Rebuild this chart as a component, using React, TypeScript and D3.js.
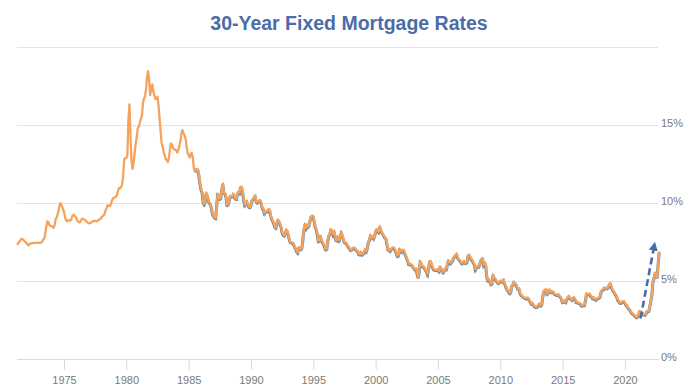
import * as d3 from "d3";
import { useEffect, useRef } from "react";

// monthly averages, 30-year fixed rate (%)
// Apr 1971 – Dec 1979
const rates1970s = [
    7.31, 7.43, 7.53, 7.60, 7.70, 7.69, 7.63, 7.55, 7.48,
    7.44, 7.32, 7.29, 7.37, 7.41, 7.41, 7.43, 7.45, 7.44, 7.45, 7.44, 7.44,
    7.44, 7.44, 7.46, 7.54, 7.65, 7.73, 8.05, 8.50, 8.82, 8.77, 8.58, 8.54,
    8.54, 8.46, 8.41, 8.58, 8.97, 9.09, 9.28, 9.59, 9.96, 9.98, 9.79, 9.62,
    9.43, 9.10, 8.89, 8.82, 8.91, 8.89, 8.86, 8.94, 9.16, 9.25, 9.20, 9.12,
    9.02, 8.85, 8.78, 8.76, 8.81, 8.96, 8.99, 8.97, 8.92, 8.86, 8.79, 8.74,
    8.70, 8.71, 8.75, 8.80, 8.84, 8.86, 8.86, 8.84, 8.84, 8.91, 8.94, 8.97,
    9.07, 9.14, 9.19, 9.29, 9.53, 9.67, 9.86, 9.82, 9.79, 9.87, 10.13, 10.28,
    10.33, 10.38, 10.41, 10.51, 10.78, 10.97, 10.94, 11.01, 11.21, 11.81, 12.81, 12.87,
];
const rates1980s = [
    12.88, 13.04, 15.28, 16.32, 14.26, 12.71, 12.19, 12.56, 13.20, 13.79, 14.21, 14.79,
    14.90, 15.13, 15.40, 15.58, 16.40, 16.70, 16.83, 17.29, 18.16, 18.45, 17.83, 16.92,
    17.40, 17.60, 17.16, 16.89, 16.68, 16.70, 16.82, 16.27, 15.43, 14.61, 13.83, 13.62,
    13.25, 13.04, 12.80, 12.78, 12.63, 12.87, 13.42, 13.81, 13.73, 13.54, 13.44, 13.42,
    13.37, 13.23, 13.39, 13.65, 13.94, 14.42, 14.67, 14.47, 14.35, 14.13, 13.64, 13.18,
    13.08, 12.92, 13.17, 13.20, 12.91, 12.22, 12.03, 12.19, 12.19, 12.14, 11.78, 11.26,
    10.88, 10.71, 10.08, 9.94, 10.14, 10.68, 10.51, 10.20, 10.01, 9.97, 9.70, 9.31,
    9.20, 9.08, 9.04, 9.83, 10.60, 10.54, 10.28, 10.33, 10.89, 11.26, 10.65, 10.65,
    10.43, 9.89, 9.93, 10.20, 10.46, 10.46, 10.43, 10.60, 10.48, 10.30, 10.27, 10.61,
    10.73, 10.65, 11.03, 11.05, 10.77, 10.20, 9.88, 9.99, 10.13, 9.95, 9.77, 9.74,
];
const rates1990s = [
    9.90, 10.20, 10.27, 10.37, 10.48, 10.16, 10.04, 10.10, 10.18, 10.18, 10.01, 9.67,
    9.64, 9.37, 9.50, 9.49, 9.47, 9.62, 9.58, 9.24, 9.01, 8.86, 8.71, 8.50,
    8.43, 8.76, 8.94, 8.85, 8.67, 8.51, 8.13, 7.98, 7.92, 8.09, 8.31, 8.22,
    7.99, 7.68, 7.50, 7.47, 7.47, 7.42, 7.21, 7.11, 6.92, 6.83, 7.16, 7.17,
    7.06, 7.15, 7.68, 8.32, 8.60, 8.40, 8.61, 8.51, 8.64, 8.93, 9.17, 9.20,
    9.15, 8.83, 8.46, 8.32, 7.96, 7.57, 7.61, 7.86, 7.64, 7.48, 7.38, 7.20,
    7.03, 7.08, 7.62, 7.93, 8.07, 8.32, 8.25, 8.00, 8.23, 7.92, 7.62, 7.60,
    7.82, 7.65, 7.90, 8.14, 7.94, 7.69, 7.50, 7.48, 7.43, 7.29, 7.21, 7.10,
    6.99, 7.04, 7.13, 7.14, 7.14, 7.00, 6.95, 6.92, 6.72, 6.71, 6.87, 6.72,
    6.79, 6.81, 7.04, 6.92, 7.15, 7.55, 7.63, 7.94, 7.82, 7.85, 7.74, 7.91,
];
const rates2000s = [
    8.21, 8.33, 8.24, 8.15, 8.52, 8.29, 8.15, 8.03, 7.91, 7.80, 7.75, 7.38,
    7.03, 7.05, 6.95, 7.08, 7.15, 7.16, 7.13, 6.95, 6.82, 6.62, 6.66, 7.07,
    7.00, 6.89, 7.01, 6.99, 6.81, 6.65, 6.49, 6.29, 6.09, 6.11, 6.07, 6.05,
    5.92, 5.84, 5.75, 5.81, 5.48, 5.23, 5.63, 6.26, 6.15, 5.95, 5.93, 5.88,
    5.71, 5.64, 5.45, 5.83, 6.27, 6.29, 6.06, 5.87, 5.75, 5.72, 5.73, 5.75,
    5.71, 5.63, 5.93, 5.86, 5.72, 5.58, 5.70, 5.82, 5.77, 6.07, 6.33, 6.27,
    6.15, 6.25, 6.32, 6.51, 6.60, 6.68, 6.76, 6.52, 6.40, 6.36, 6.24, 6.14,
    6.22, 6.29, 6.16, 6.18, 6.26, 6.66, 6.70, 6.57, 6.38, 6.38, 6.21, 6.10,
    5.76, 5.92, 5.97, 5.92, 6.04, 6.32, 6.43, 6.48, 6.04, 6.20, 6.09, 5.33,
    5.06, 5.13, 5.00, 4.81, 4.86, 5.42, 5.22, 5.19, 5.06, 4.95, 4.88, 4.93,
];
const rates2010s = [
    5.03, 4.99, 4.97, 5.10, 4.89, 4.74, 4.56, 4.43, 4.35, 4.23, 4.30, 4.71,
    4.76, 4.95, 4.84, 4.84, 4.64, 4.51, 4.55, 4.27, 4.11, 4.07, 3.99, 3.96,
    3.92, 3.89, 3.95, 3.91, 3.80, 3.68, 3.55, 3.60, 3.50, 3.38, 3.35, 3.35,
    3.41, 3.53, 3.57, 3.45, 3.54, 4.07, 4.37, 4.46, 4.49, 4.19, 4.26, 4.46,
    4.43, 4.30, 4.34, 4.34, 4.19, 4.16, 4.13, 4.12, 4.16, 4.04, 4.00, 3.86,
    3.67, 3.71, 3.77, 3.67, 3.84, 3.98, 4.05, 3.91, 3.89, 3.80, 3.94, 3.96,
    3.87, 3.66, 3.69, 3.61, 3.60, 3.57, 3.44, 3.44, 3.46, 3.47, 3.77, 4.20,
    4.15, 4.17, 4.20, 4.05, 4.01, 3.90, 3.97, 3.88, 3.81, 3.90, 3.92, 3.95,
    4.03, 4.33, 4.44, 4.47, 4.59, 4.57, 4.53, 4.55, 4.63, 4.83, 4.87, 4.64,
    4.46, 4.37, 4.27, 4.14, 4.07, 3.80, 3.77, 3.62, 3.61, 3.69, 3.70, 3.72,
];
const rates2020s = [
    3.62, 3.47, 3.45, 3.31, 3.23, 3.16, 3.02, 2.94, 2.89, 2.83, 2.77, 2.68,
    2.74, 2.81, 3.08, 3.06, 2.96, 2.98, 2.87, 2.84, 2.90, 3.07, 3.07, 3.10,
    3.45, 3.76, 4.17, 4.98, 5.23, 5.52, 5.41, 5.22, 6.11, 6.90,
];
// first month of each block, as a decimal year
const blockStarts = [1971.25, 1980, 1990, 2000, 2010, 2020];

const yearTicks = [1975, 1980, 1985, 1990, 1995, 2000, 2005, 2010, 2015, 2020];
const rateTicks = [0, 5, 10, 15, 20];

// dashed "recent jump" arrow: [year, rate]
const arrowFrom = [2021.25, 2.6];
const arrowTo = [2022.3, 7.45];

type Pt = { date: number; rate: number };

function MortgageChart() {
    const ref = useRef<SVGSVGElement>(null);

    useEffect(() => {
        const svg = d3.select(ref.current);
        svg.selectAll("*").remove();

        const blocks = [rates1970s, rates1980s, rates1990s, rates2000s, rates2010s, rates2020s];
        const data: Pt[] = blocks.flatMap((vals, k) =>
            vals.map((r, i) => ({ date: blockStarts[k] + i / 12, rate: r }))
        );

        const x = d3.scaleLinear().domain([1971.23, 2022.65]).range([17, 658]);
        const y = d3.scaleLinear().domain([0, 20]).range([359, 47]);

        const axisFont = "'Liberation Sans Narrow', 'Liberation Sans', Arial, sans-serif";

        // title
        svg.append("text")
            .attr("x", 349)
            .attr("y", 30)
            .attr("text-anchor", "middle")
            .style("font-family", "'Liberation Sans', Arial, sans-serif")
            .style("font-size", "19.5px")
            .style("font-weight", "bold")
            .style("fill", "#4a6da8")
            .text("30-Year Fixed Mortgage Rates");

        // y gridlines + labels on the right
        const yAxis = svg.append("g")
            .attr("transform", `translate(658,0)`)
            .call(d3.axisRight(y)
                .tickValues(rateTicks)
                .tickSize(-(658 - 17))
                .tickPadding(4)
                .tickFormat(d => (+d === 20 ? "" : `${d}%`)));
        yAxis.select(".domain").remove();
        yAxis.selectAll(".tick line").attr("stroke", "#e4e4e4").attr("stroke-width", 1.2);
        yAxis.selectAll(".tick text")
            .attr("x", 3)
            .attr("dy", "0.1em")
            .style("font-family", axisFont)
            .style("font-size", "11px")
            .style("fill", "#7a7a7a");

        // x axis
        const xAxis = svg.append("g")
            .attr("transform", `translate(0,359)`)
            .call(d3.axisBottom(x)
                .tickValues(yearTicks)
                .tickFormat(d3.format("d"))
                .tickSize(11)
                .tickSizeOuter(0)
                .tickPadding(6));
        xAxis.select(".domain").attr("stroke", "#d3dbe8").attr("stroke-width", 1.2);
        xAxis.selectAll(".tick line").attr("stroke", "#d3dbe8");
        xAxis.selectAll(".tick text")
            .style("font-family", axisFont)
            .style("font-size", "11px")
            .style("fill", "#7a7a7a");

        const line = d3.line<Pt>()
            .x(d => x(d.date))
            .y(d => y(d.rate));

        // other series peeking out from under the orange one
        const later = data.filter(d => d.date >= 1985.5);
        svg.append("path")
            .datum(later)
            .attr("fill", "none")
            .attr("stroke", "#5b9bd5")
            .attr("stroke-width", 2)
            .attr("transform", "translate(0.5,1.2)")
            .attr("d", line);
        svg.append("path")
            .datum(later)
            .attr("fill", "none")
            .attr("stroke", "#7f7f7f")
            .attr("stroke-width", 2)
            .attr("transform", "translate(-0.6,0.9)")
            .attr("d", line);

        svg.append("path")
            .datum(data)
            .attr("fill", "none")
            .attr("stroke", "#f5a35c")
            .attr("stroke-width", 2.3)
            .attr("stroke-linejoin", "round")
            .attr("d", line);

        // arrow
        svg.append("defs").append("marker")
            .attr("id", "arrowHead")
            .attr("viewBox", "0 0 10 10")
            .attr("refX", 2)
            .attr("refY", 5)
            .attr("markerWidth", 9)
            .attr("markerHeight", 9)
            .attr("markerUnits", "userSpaceOnUse")
            .attr("orient", "auto")
            .append("path")
            .attr("d", "M0,0 L10,5 L0,10 Z")
            .attr("fill", "#4a6da8");

        svg.append("line")
            .attr("x1", x(arrowFrom[0]))
            .attr("y1", y(arrowFrom[1]))
            .attr("x2", x(arrowTo[0]))
            .attr("y2", y(arrowTo[1]) + 6)
            .attr("stroke", "#4a6da8")
            .attr("stroke-width", 2.6)
            .attr("stroke-dasharray", "7,4")
            .attr("marker-end", "url(#arrowHead)");
    }, []);

    return (
        <svg
            ref={ref}
            width={700}
            height={392}
            style={{ position: "absolute", left: 0, top: 0, background: "#fff" }}
        />
    );
}

export default function App() {
    return <MortgageChart />;
}
